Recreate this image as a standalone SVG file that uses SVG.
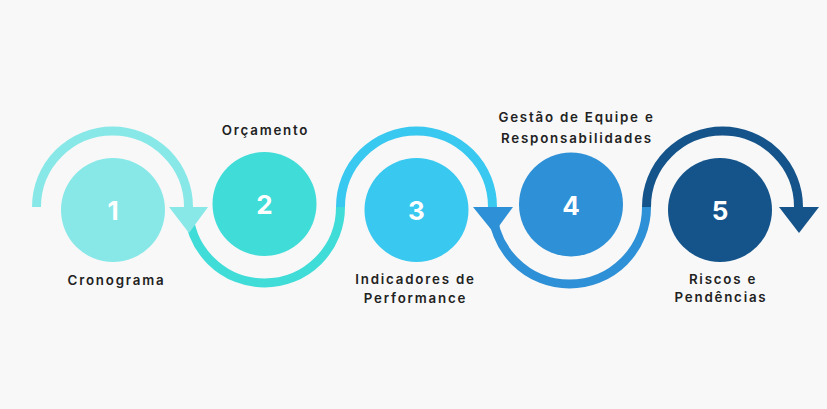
<svg xmlns="http://www.w3.org/2000/svg" width="827" height="409" viewBox="0 0 827 409">
<style>
.arc{fill:none;stroke-width:9}
.num{font-family:Inter,"Liberation Sans",sans-serif;font-weight:700;font-size:26px;fill:#ffffff;text-anchor:middle}
.lbl{font-family:Inter,"Liberation Sans",sans-serif;font-weight:600;font-size:13.3px;fill:#222222;text-anchor:middle;letter-spacing:1.8px}
</style>
<rect width="827" height="409" fill="#F8F8F8"/>
<g id="connectors">
<path class="arc" stroke="#88E8E8" d="M36.5 207 A76 76 0 0 1 188.5 207"/>
<path class="arc" stroke="#40DCD8" d="M188.5 207 A76 76 0 0 0 340.5 207"/>
<path class="arc" stroke="#38C8F0" d="M340.5 207 A76 76 0 0 1 492.5 207"/>
<path class="arc" stroke="#2E90D6" d="M492.5 207 A77 77 0 0 0 646.5 207"/>
<path class="arc" stroke="#14548A" d="M646.5 207 A76 76 0 0 1 798.5 207"/>
<polygon fill="#88E8E8" points="169,207 208,207 189,233"/>
<polygon fill="#2E90D6" points="473,207 513,207 494,233"/>
<polygon fill="#14548A" points="779,207 819,207 799,233"/>
</g>
<g id="node1">
<circle cx="113" cy="210" r="52" fill="#88E8E8"/>
<text class="num" x="113" y="220">1</text>
<text class="lbl" x="116.5" y="284.5">Cronograma</text>
</g>
<g id="node2">
<circle cx="264.5" cy="204" r="52" fill="#40DCD8"/>
<text class="num" x="264.5" y="214">2</text>
<text class="lbl" x="265.5" y="135">Orçamento</text>
</g>
<g id="node3">
<circle cx="416.5" cy="210" r="52" fill="#38C8F0"/>
<text class="num" x="416.5" y="220">3</text>
<text class="lbl" x="415.5" y="284">Indicadores de</text>
<text class="lbl" x="415.5" y="302.5">Performance</text>
</g>
<g id="node4">
<circle cx="571" cy="204.5" r="52" fill="#2E90D6"/>
<text class="num" x="571" y="214.5">4</text>
<text class="lbl" x="576.5" y="121.5">Gestão de Equipe e</text>
<text class="lbl" x="577" y="142.5">Responsabilidades</text>
</g>
<g id="node5">
<circle cx="720" cy="210" r="52" fill="#14548A"/>
<text class="num" x="720" y="220">5</text>
<text class="lbl" x="723" y="284">Riscos e</text>
<text class="lbl" x="721" y="302">Pendências</text>
</g>
</svg>
